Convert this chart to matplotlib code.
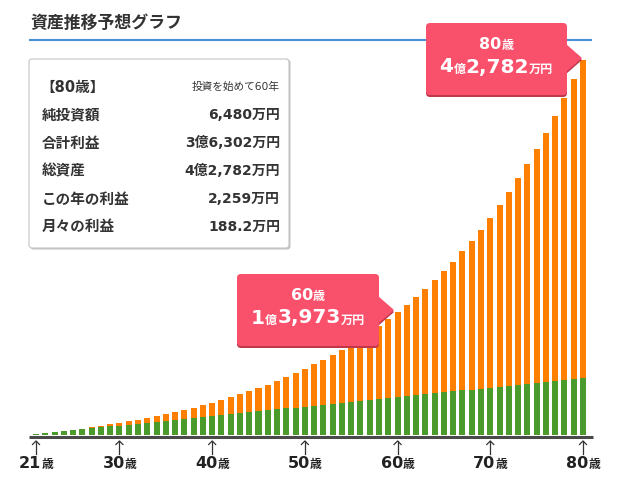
import matplotlib
matplotlib.use('Agg')
import matplotlib.pyplot as plt
from matplotlib.patches import FancyBboxPatch, Polygon
from matplotlib.lines import Line2D
from matplotlib.transforms import IdentityTransform

plt.rcParams['font.family'] = ['DejaVu Sans', 'Noto Sans CJK JP']

# ---------------- data (万円) ----------------
ages = list(range(21, 81))
invested = [108, 216, 324, 432, 540, 648, 756, 864, 972, 1080,
            1188, 1296, 1404, 1512, 1620, 1728, 1836, 1944, 2052, 2160,
            2268, 2376, 2484, 2592, 2700, 2808, 2916, 3024, 3132, 3240,
            3348, 3456, 3564, 3672, 3780, 3888, 3996, 4104, 4212, 4320,
            4428, 4536, 4644, 4752, 4860, 4968, 5076, 5184, 5292, 5400,
            5508, 5616, 5724, 5832, 5940, 6048, 6156, 6264, 6372, 6480]
profit = [0, 6, 17, 35, 60, 92, 131, 178, 233, 296,
          369, 451, 544, 646, 760, 886, 1024, 1175, 1340, 1519,
          1713, 1923, 2150, 2395, 2658, 2941, 3245, 3570, 3918, 4291,
          4688, 5112, 5565, 6047, 6560, 7106, 7686, 8303, 8958, 9653,
          10391, 11174, 12003, 12882, 13813, 14799, 15843, 16948, 18116, 19352,
          20659, 22041, 23501, 25044, 26674, 28396, 30215, 32135, 34163, 36302]
tick_ages = [21, 30, 40, 50, 60, 70, 80]

title = '資産推移予想グラフ'
box_head = ('【80歳】', '投資を始めて60年')
box_rows = [('純投資額', '6,480万円'),
            ('合計利益', '3億6,302万円'),
            ('総資産', '4億2,782万円'),
            ('この年の利益', '2,259万円'),
            ('月々の利益', '188.2万円')]
callouts = [(60, '60', [('1', 14.5), ('億', 8.7), ('3,973', 14.5), ('万円', 8.7)]),
            (80, '80', [('4', 14.5), ('億', 8.7), ('2,782', 14.5), ('万円', 8.7)])]

green = '#4b9a2c'
orange = '#ff8000'
pink = '#f9506b'
pink_dark = '#c0364c'
dark = '#333333'

# ---------------- figure ----------------
W, H = 618, 487
fig = plt.figure(figsize=(W / 100, H / 100), dpi=100)
I = IdentityTransform()
renderer = fig.canvas.get_renderer()


def Y(y):
    return H - y


ax = fig.add_axes([29 / W, 52 / H, 564 / W, 415 / H])
xs = list(range(len(ages)))
ax.bar(xs, invested, width=0.65, color=green, linewidth=0)
ax.bar(xs, profit, bottom=invested, width=0.65, color=orange, linewidth=0)
ax.set_xlim(-0.755, 60.08)
ax.set_ylim(0, 47283)
ax.axis('off')

fig.canvas.draw()
y0 = ax.transData.transform((0, 0))[1]
# baseline
fig.add_artist(Line2D([29, 593], [y0 - 1.5, y0 - 1.5], transform=I, color='#4a4a4a',
                      lw=2.2, zorder=2, solid_capstyle='butt'))

# title + blue rule
fig.text(30, Y(23), title, transform=I, fontsize=12.2, fontweight='bold', color=dark,
         va='center', ha='left')
fig.add_artist(Line2D([30, 591], [Y(39.5), Y(39.5)], transform=I, color='#4a90d9', lw=1.5, zorder=1))


def rich(cx, by, pieces, color, weight='bold', zorder=6):
    ts = []
    for s, size in pieces:
        t = fig.text(0, 0, s, fontsize=size, fontweight=weight, color=color,
                     va='baseline', ha='left', transform=I, zorder=zorder)
        ts.append(t)
    ws = [t.get_window_extent(renderer).width for t in ts]
    x0 = cx - sum(ws) / 2
    for t, w in zip(ts, ws):
        t.set_position((x0, by))
        x0 += w


# info box
fig.add_artist(FancyBboxPatch((30.5, Y(249.5)), 260, 190, boxstyle='round,pad=0,rounding_size=3',
                              transform=I, facecolor='#9a9a9a', edgecolor='none', alpha=0.6, zorder=1))
fig.add_artist(FancyBboxPatch((29, Y(248)), 260, 189, boxstyle='round,pad=0,rounding_size=3',
                              transform=I, facecolor='white', edgecolor='#c4c4c4', lw=0.8, zorder=1.5))
fig.text(40, Y(87), box_head[0], transform=I, fontsize=10.5, fontweight='bold', color=dark,
         va='center', ha='left', zorder=3)
fig.text(280, Y(87), box_head[1], transform=I, fontsize=7.7, color=dark,
         va='center', ha='right', zorder=3)
row_y = [115, 143, 171, 199, 226.5]
for (lab, val), yy in zip(box_rows, row_y):
    fig.text(42, Y(yy), lab, transform=I, fontsize=10.5, fontweight='bold', color=dark,
             va='center', ha='left', zorder=3)
    fig.text(280, Y(yy), val, transform=I, fontsize=10, fontweight='bold', color=dark,
             va='center', ha='right', zorder=3)

# callouts
boxes = {60: (237, 274, 379, 346, 394, 310), 80: (426, 23, 567, 95, 582, 58)}
for age, num, pieces in callouts:
    x1, y1, x2, y2, tipx, tipy = boxes[age]
    for dy, col, z in [(2, pink_dark, 4), (0, pink, 4.5)]:
        fig.add_artist(FancyBboxPatch((x1, Y(y2 + dy)), x2 - x1, y2 - y1,
                                      boxstyle='round,pad=0,rounding_size=4', transform=I,
                                      facecolor=col, edgecolor='none', zorder=z))
        fig.add_artist(Polygon([(x2 - 1, Y(tipy - 14 + dy)), (tipx, Y(tipy + dy)),
                                (x2 - 1, Y(tipy + 14 + dy))], closed=True, transform=I,
                               facecolor=col, edgecolor='none', zorder=z))
    cx = (x1 + x2) / 2
    rich(cx, Y(y1 + 26), [(num, 11.5), ('歳', 8.7)], 'white')
    rich(cx, Y(y1 + 49.5), pieces, 'white')

# age ticks
for a in tick_ages:
    idx = ages.index(a)
    px = ax.transData.transform((idx, 0))[0]
    fig.add_artist(Line2D([px, px], [Y(441), Y(454)], transform=I, color=dark, lw=0.9, zorder=3))
    fig.add_artist(Line2D([px - 3.5, px, px + 3.5], [Y(444.5), Y(441), Y(444.5)], transform=I,
                          color=dark, lw=0.9, zorder=3))
    rich(px, Y(468), [(str(a), 11.5), ('歳', 8.5)], '#222222')

fig.savefig('out.png', dpi=100)
